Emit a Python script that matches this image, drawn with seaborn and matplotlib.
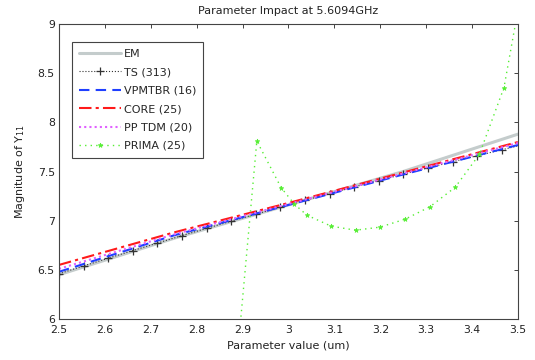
import numpy as np
import pandas as pd
import matplotlib
matplotlib.use("Agg")
import matplotlib.pyplot as plt
import seaborn as sns

# ---- data ----
em_x = [2.5, 2.75, 3.0, 3.25, 3.5]
em_y = [6.45, 6.82, 7.16, 7.50, 7.88]

ts_x = [2.5, 2.5536, 2.6072, 2.6608, 2.7144, 2.768, 2.8216, 2.8752, 2.9288,
        2.9824, 3.036, 3.0896, 3.1432, 3.1968, 3.2504, 3.304, 3.3576, 3.4112, 3.4648]
ts_y = [6.46, 6.54, 6.618, 6.696, 6.772, 6.848, 6.922, 6.995, 7.066,
        7.137, 7.207, 7.275, 7.342, 7.408, 7.473, 7.537, 7.599, 7.661, 7.721]
ts_end_x = [3.4648, 3.5]
ts_end_y = [7.721, 7.76]

vp_x = [2.5, 2.75, 3.0, 3.25, 3.5]
vp_y = [6.48, 6.85, 7.16, 7.47, 7.77]

core_x = [2.5, 2.75, 3.0, 3.25, 3.5]
core_y = [6.55, 6.88, 7.18, 7.49, 7.80]

pp_x = [2.5, 2.75, 3.0, 3.25, 3.5]
pp_y = [6.51, 6.86, 7.17, 7.48, 7.79]

prima_x = [2.877, 2.931, 2.984, 3.013, 3.040, 3.093, 3.146, 3.199, 3.254,
           3.308, 3.363, 3.416, 3.4695, 3.5225]
prima_y = [5.02, 7.81, 7.335, 7.168, 7.056, 6.944, 6.903, 6.934, 7.015,
           7.141, 7.339, 7.675, 8.354, 9.73]

xticks = [2.5, 2.6, 2.7, 2.8, 2.9, 3.0, 3.1, 3.2, 3.3, 3.4, 3.5]
xticklabels = ["2.5", "2.6", "2.7", "2.8", "2.9", "3", "3.1", "3.2", "3.3", "3.4", "3.5"]
yticks = [6, 6.5, 7, 7.5, 8, 8.5, 9]
yticklabels = ["6", "6.5", "7", "7.5", "8", "8.5", "9"]

# ---- style ----
sns.set_style("white")
plt.rcParams["font.family"] = ["DejaVu Sans"]
plt.rcParams.update({
    "xtick.direction": "in", "ytick.direction": "in",
    "xtick.top": True, "ytick.right": True,
    "xtick.major.size": 3, "ytick.major.size": 3,
    "xtick.major.width": 0.6, "ytick.major.width": 0.6,
    "font.size": 8,
})

fig = plt.figure(figsize=(5.35, 3.6), dpi=100)
ax = fig.add_axes([0.1103, 0.1139, 0.8579, 0.8194])


def draw(x, y, label=None, marker=None, ms=None, mew=None, **kw):
    sns.lineplot(x=x, y=y, ax=ax, label=label, sort=False, **kw)
    ln = ax.get_lines()[-1]
    if marker is not None:
        ln.set_marker(marker)
        ln.set_markersize(ms)
        ln.set_markeredgewidth(mew)
        ln.set_markeredgecolor(kw["color"])
        ln.set_markerfacecolor(kw["color"])
    return ln


draw(em_x, em_y, "EM", color="#c4cccc", lw=2.2)
draw(ts_x, ts_y, "TS (313)", marker="+", ms=6, mew=0.9,
     color="#333333", lw=0.8, ls=":")
draw(ts_end_x, ts_end_y, None, color="#333333", lw=0.8, ls=":")
draw(vp_x, vp_y, "VPMTBR (16)", color="#1f3fff", lw=1.5, ls=(0, (5, 3)))
draw(core_x, core_y, "CORE (25)", color="#ff1a1a", lw=1.5, ls=(0, (6, 2, 1.5, 2)))
draw(pp_x, pp_y, "PP TDM (20)", color="#e060ff", lw=1.5, ls=(0, (1, 1.5)))
draw(prima_x, prima_y, "PRIMA (25)", marker="*", ms=3.5, mew=0.5,
     color="#55ee33", lw=1.0, ls=(0, (1, 3)))

ax.set_xlim(2.5, 3.5)
ax.set_ylim(6, 9)
ax.set_xticks(xticks)
ax.set_xticklabels(xticklabels)
ax.set_yticks(yticks)
ax.set_yticklabels(yticklabels)
ax.tick_params(labelsize=7.8, colors="#222222")
ax.tick_params(axis="x", pad=4.5)
ax.tick_params(axis="y", pad=3)
for s in ax.spines.values():
    s.set_color("#444444")
    s.set_linewidth(0.8)

ax.set_title("Parameter Impact at 5.6094GHz", fontsize=8, color="#222222", pad=7)
ax.set_xlabel("Parameter value (um)", fontsize=8, color="#222222", labelpad=4)
ax.set_ylabel("Magnitude of Y$_{11}$", fontsize=8, color="#222222", labelpad=8)

handles, labels = ax.get_legend_handles_labels()
leg = ax.legend(handles, labels, loc="upper left", bbox_to_anchor=(0.029, 0.939),
                fontsize=8, frameon=True, fancybox=False, framealpha=1,
                edgecolor="#444444", handlelength=3.8, handletextpad=0.25,
                labelspacing=0.76, borderpad=0.6, borderaxespad=0,
                markerscale=1.0)
leg.get_frame().set_linewidth(0.8)

fig.savefig("out.png", dpi=100)
